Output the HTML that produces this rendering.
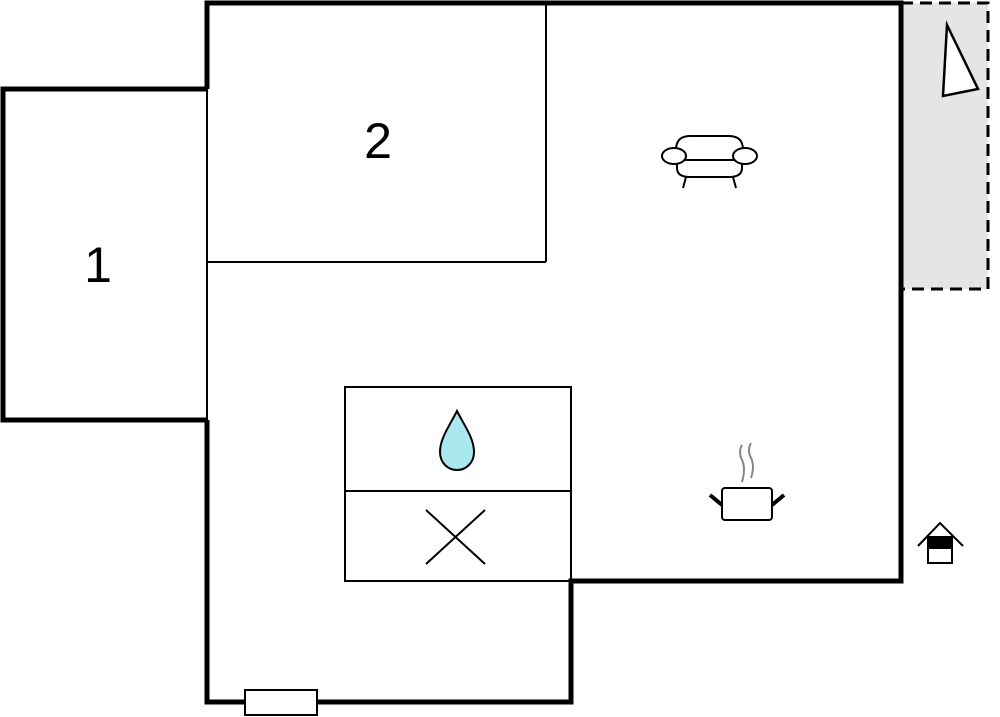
<!DOCTYPE html>
<html><head><style>body{margin:0;background:#fff}svg{display:block}</style></head><body>
<svg width="1000" height="717" viewBox="0 0 1000 717" xmlns="http://www.w3.org/2000/svg">
<rect x="901" y="3" width="87" height="286" fill="#e5e5e5" stroke="#000" stroke-width="3" stroke-dasharray="12,7"/>
<polygon points="947,25 943,96 978,89" fill="#fff" stroke="#000" stroke-width="2.5"/>
<g fill="none" stroke="#000" stroke-width="2">
<line x1="546" y1="3" x2="546" y2="262"/>
<line x1="207" y1="262" x2="546" y2="262"/>
<line x1="207" y1="89" x2="207" y2="420"/>
<rect x="345" y="387" width="226" height="194"/>
<line x1="345" y1="491" x2="571" y2="491"/>
<line x1="426" y1="510" x2="485" y2="564"/>
<line x1="485" y1="510" x2="426" y2="564"/>
</g>
<g fill="none" stroke="#000" stroke-width="5" stroke-linejoin="miter">
<polyline points="207,89 207,3 901,3 901,581 571,581 571,702 207,702 207,420"/>
<polyline points="207,89 3,89 3,420 207,420"/>
</g>
<rect x="245" y="690" width="72" height="25" fill="#fff" stroke="#000" stroke-width="2"/>
<path d="M457,411 C450,425 440,438 440,452 C440,463 448,470 457,470 C466,470 474,463 474,452 C474,438 464,425 457,411 Z" fill="#a9e8ee" stroke="#000" stroke-width="2"/>
<g fill="#fff" stroke="#000" stroke-width="2">
<path d="M676,162 L676,150 Q676,136 690,136 L729,136 Q743,136 743,150 L743,162"/>
<path d="M677,160 L677,168 Q677,177 690,177 L729,177 Q742,177 742,168 L742,160"/>
<line x1="686" y1="177" x2="683" y2="188"/><line x1="733" y1="177" x2="736" y2="188"/>
<line x1="685" y1="160" x2="734" y2="160"/>
<ellipse cx="674" cy="156" rx="12" ry="8"/>
<ellipse cx="745" cy="156" rx="12" ry="8"/>
</g>
<g fill="none" stroke="#888" stroke-width="2">
<path d="M742,445 Q738,452 742,460 Q746,468 742,482"/>
<path d="M751,443 Q747,450 751,458 Q755,466 751,478"/>
</g>
<rect x="722" y="488" width="50" height="32" rx="3" fill="#fff" stroke="#000" stroke-width="2"/>
<line x1="710" y1="495" x2="722" y2="505" stroke="#000" stroke-width="4"/>
<line x1="784" y1="495" x2="772" y2="505" stroke="#000" stroke-width="4"/>
<polyline points="918,546 940,523 963,546" fill="none" stroke="#000" stroke-width="2"/>
<rect x="928" y="537" width="24" height="26" fill="#fff" stroke="#000" stroke-width="2"/>
<rect x="928" y="537" width="24" height="12" fill="#000"/>
<text x="378" y="158" font-family="Liberation Sans, sans-serif" font-size="50" text-anchor="middle">2</text>
<text x="98" y="282" font-family="Liberation Sans, sans-serif" font-size="50" text-anchor="middle">1</text>
</svg>
</body></html>
